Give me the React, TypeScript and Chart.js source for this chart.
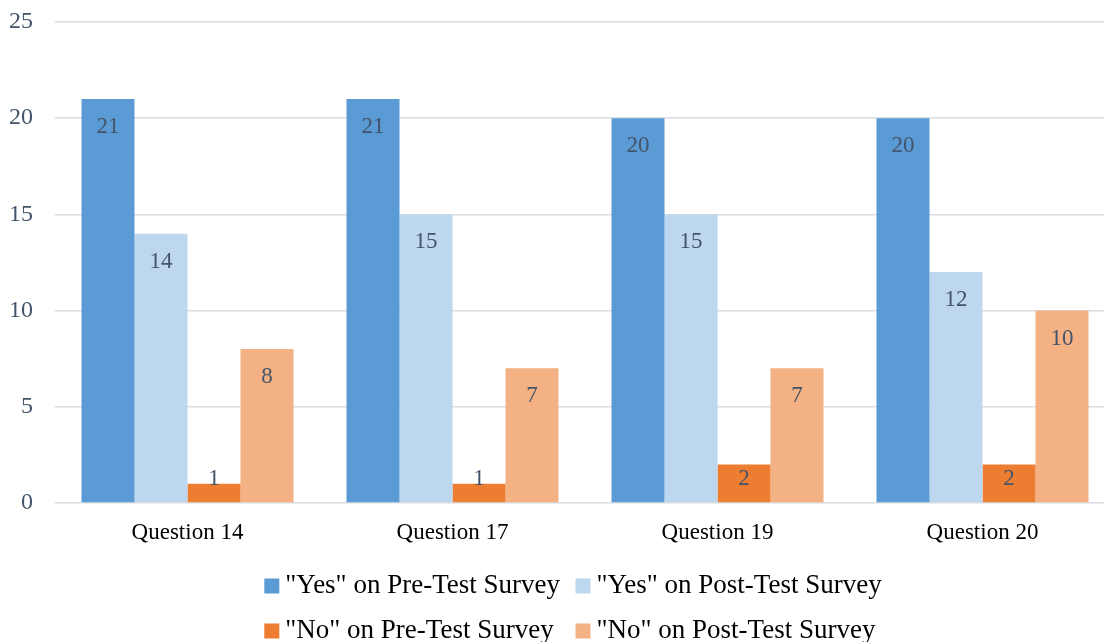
import React, { useEffect, useRef } from "react";
import { Chart, registerables } from "chart.js";

Chart.register(...registerables);

// Survey results per question
const categories = ["Question 14", "Question 17", "Question 19", "Question 20"];
const seriesNames = [
  '"Yes" on Pre-Test Survey',
  '"Yes" on Post-Test Survey',
  '"No" on Pre-Test Survey',
  '"No" on Post-Test Survey',
];
const yesPre = [21, 21, 20, 20];
const yesPost = [14, 15, 15, 12];
const noPre = [1, 1, 2, 2];
const noPost = [8, 7, 7, 10];
const yTicks = [0, 5, 10, 15, 20, 25];

const seriesColors = ["#5B9BD5", "#BDD7EE", "#ED7D31", "#F4B183"];
const FONT = "'Liberation Serif', 'Times New Roman', serif";
const SLATE = "#44546A";
const GRID = "#D9DCE1";

const CANVAS_W = 1120;
const CANVAS_H = 660;

// Value labels drawn just inside the top of each bar
const barValueLabels = {
  id: "barValueLabels",
  afterDatasetsDraw(chart: any) {
    const ctx = chart.ctx;
    ctx.save();
    ctx.font = `23px ${FONT}`;
    ctx.fillStyle = SLATE;
    ctx.textAlign = "center";
    ctx.textBaseline = "middle";
    chart.data.datasets.forEach((ds: any, di: number) => {
      const meta = chart.getDatasetMeta(di);
      meta.data.forEach((bar: any, i: number) => {
        const top = bar.y;
        const base = bar.base;
        const y = Math.min(top + 28, base - 23);
        ctx.fillText(String(ds.data[i]), bar.x, y);
      });
    });
    ctx.restore();
  },
};

// Two-column legend under the plot
const gridLegend = {
  id: "gridLegend",
  afterDraw(chart: any) {
    const ctx = chart.ctx;
    const ds = chart.data.datasets;
    const box = 15;
    const gap = 6;
    const colGap = 5;
    const cols = 2;
    ctx.save();
    ctx.font = `27px ${FONT}`;
    const widths = ds.map((d: any) => box + gap + ctx.measureText(d.label).width);
    const colW = Math.max(...widths) + colGap;
    const total = cols * colW - colGap;
    const cx = (chart.chartArea.left + chart.chartArea.right) / 2 - 12;
    const x0 = cx - total / 2;
    ds.forEach((d: any, i: number) => {
      const col = i % cols;
      const row = Math.floor(i / cols);
      const x = x0 + col * colW;
      const y = chart.chartArea.bottom + 83 + row * 45;
      ctx.fillStyle = d.backgroundColor;
      ctx.fillRect(x, y - box / 2, box, box);
      ctx.fillStyle = "#000000";
      ctx.textAlign = "left";
      ctx.textBaseline = "middle";
      ctx.fillText(d.label, x + box + gap, y);
    });
    ctx.restore();
  },
};

export default function App() {
  const canvasRef = useRef<HTMLCanvasElement | null>(null);

  useEffect(() => {
    const canvas = canvasRef.current;
    if (!canvas) return;
    const values = [yesPre, yesPost, noPre, noPost];
    const chart = new Chart(canvas, {
      type: "bar",
      data: {
        labels: categories,
        datasets: values.map((data, i) => ({
          label: seriesNames[i],
          data,
          backgroundColor: seriesColors[i],
          borderWidth: 0,
          categoryPercentage: 0.8,
          barPercentage: 1.0,
        })),
      },
      options: {
        responsive: false,
        animation: false,
        devicePixelRatio: 1,
        layout: { padding: { top: 22, right: 5, bottom: 107, left: 0 } },
        plugins: {
          legend: { display: false },
          tooltip: { enabled: false },
        },
        scales: {
          x: {
            grid: { display: false },
            border: { display: false },
            ticks: {
              color: "#000000",
              font: { family: FONT, size: 23 },
              padding: 8,
            },
            afterFit(scale: any) {
              scale.height = 50;
            },
          },
          y: {
            min: 0,
            max: 25,
            grid: { color: GRID, lineWidth: 1.5, drawTicks: false },
            border: { display: false },
            ticks: {
              color: SLATE,
              font: { family: FONT, size: 24 },
              padding: 22,
            },
            afterBuildTicks(scale: any) {
              scale.ticks = yTicks.map((v) => ({ value: v }));
            },
            afterFit(scale: any) {
              scale.width = 55;
              // the outer tick labels have room above and below the plot
              scale.paddingTop = 0;
              scale.paddingBottom = 0;
            },
          },
        },
      },
      plugins: [barValueLabels, gridLegend],
    });
    return () => chart.destroy();
  }, []);

  return (
    <div
      style={{
        position: "absolute",
        left: 0,
        top: 0,
        width: 1104,
        height: 642,
        overflow: "hidden",
        background: "#ffffff",
      }}
    >
      <canvas
        ref={canvasRef}
        width={CANVAS_W}
        height={CANVAS_H}
        style={{ width: CANVAS_W, height: CANVAS_H, display: "block" }}
      />
    </div>
  );
}
